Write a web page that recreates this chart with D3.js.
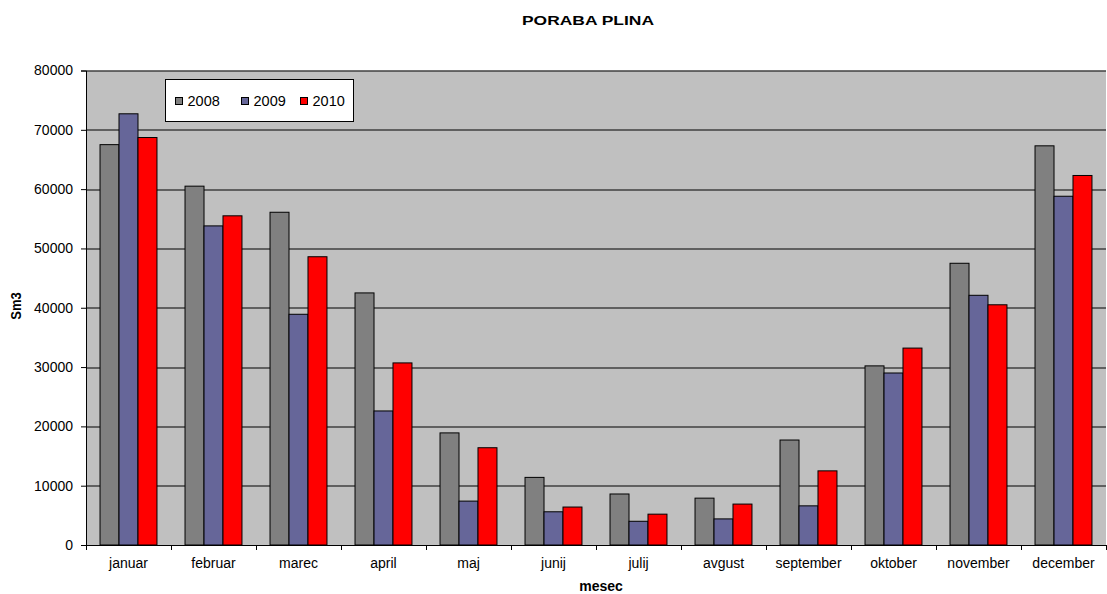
<!DOCTYPE html>
<html>
<head>
<meta charset="utf-8">
<script src="https://cdn.jsdelivr.net/npm/d3@7"></script>
<style>
  body { margin: 0; background: #fff; }
  text { font-family: "Liberation Sans", Arial, sans-serif; fill: #000; }
</style>
</head>
<body>
<script>
let months = ["januar", "februar", "marec", "april", "maj", "junij", "julij",
  "avgust", "september", "oktober", "november", "december"];
let years = ["2008", "2009", "2010"];
let v2008 = [67500, 60500, 56100, 42500, 18900, 11400, 8600, 7900, 17700, 30200, 47500, 67300];
let v2009 = [72700, 53800, 38900, 22600, 7400, 5600, 4000, 4400, 6600, 29000, 42100, 58800];
let v2010 = [68700, 55500, 48600, 30700, 16400, 6400, 5200, 6900, 12500, 33200, 40500, 62300];
let yTicks = [0, 10000, 20000, 30000, 40000, 50000, 60000, 70000, 80000];
let colors = ["#808080", "#666699", "#ff0000"];

let width = 1107, height = 594;
let margin = {top: 70.5, right: 1, bottom: 49, left: 86};
let innerW = width - margin.left - margin.right;
let innerH = height - margin.top - margin.bottom;

let svg = d3.select("body").append("svg")
    .attr("width", width)
    .attr("height", height);

let series = [v2008, v2009, v2010];

let x0 = d3.scaleBand()
    .domain(months)
    .range([0, innerW])
    .paddingInner(0.33)
    .paddingOuter(0.165);

let x1 = d3.scaleBand()
    .domain(years)
    .range([0, x0.bandwidth()]);

let y = d3.scaleLinear()
    .domain([0, 80000])
    .range([innerH, 0]);

let g = svg.append("g")
    .attr("transform", "translate(" + margin.left + "," + margin.top + ")");

g.append("rect")
    .attr("width", innerW)
    .attr("height", innerH)
    .attr("fill", "#c0c0c0");

// gridlines
g.append("g")
  .selectAll("line")
  .data(yTicks.slice(1))
  .enter().append("line")
    .attr("x1", 0)
    .attr("x2", innerW)
    .attr("y1", d => Math.round(y(d)) + 0.5)
    .attr("y2", d => Math.round(y(d)) + 0.5)
    .attr("stroke", "#000")
    .attr("stroke-width", 1);

// bars
let groups = g.append("g")
  .selectAll("g")
  .data(months)
  .enter().append("g")
    .attr("transform", d => "translate(" + x0(d) + ",0)");

groups.selectAll("rect")
  .data((m, i) => years.map((yr, j) => ({year: yr, value: series[j][i], c: colors[j]})))
  .enter().append("rect")
    .attr("x", d => x1(d.year))
    .attr("y", d => y(d.value))
    .attr("width", x1.bandwidth())
    .attr("height", d => innerH - y(d.value))
    .attr("fill", d => d.c)
    .attr("stroke", "#000")
    .attr("stroke-width", 1);

// y axis
let yAxis = g.append("g")
    .call(d3.axisLeft(y).tickValues(yTicks).tickFormat(d3.format("d")).tickSize(5).tickPadding(8));
yAxis.select(".domain").attr("stroke", "#000");
yAxis.selectAll("text").attr("font-size", "14px").attr("fill", "#000");

// x axis
let xTickPos = d3.range(months.length + 1).map(i => i * x0.step());
let xa = g.append("g").attr("transform", "translate(0," + innerH + ")");
xa.append("line")
    .attr("x1", 0).attr("x2", innerW)
    .attr("y1", 0.5).attr("y2", 0.5)
    .attr("stroke", "#000");
xa.selectAll(".tk")
  .data(xTickPos)
  .enter().append("line")
    .attr("x1", d => Math.round(d) + 0.5)
    .attr("x2", d => Math.round(d) + 0.5)
    .attr("y1", 0).attr("y2", 5)
    .attr("stroke", "#000");
xa.selectAll(".lbl")
  .data(months)
  .enter().append("text")
    .attr("x", d => x0(d) + x0.bandwidth() / 2)
    .attr("y", 23)
    .attr("text-anchor", "middle")
    .attr("font-size", "14px")
    .text(d => d);

// titles
svg.append("text")
    .attr("x", 522)
    .attr("y", 24.5)
    .attr("font-size", "13px")
    .attr("font-weight", "bold")
    .attr("textLength", 132)
    .attr("lengthAdjust", "spacingAndGlyphs")
    .text("PORABA PLINA");

svg.append("text")
    .attr("x", 601)
    .attr("y", 591)
    .attr("text-anchor", "middle")
    .attr("font-size", "14px")
    .attr("font-weight", "bold")
    .text("mesec");

svg.append("text")
    .attr("transform", "translate(21,306) scale(1.15,1) rotate(-90)")
    .attr("text-anchor", "middle")
    .attr("font-size", "13px")
    .attr("font-weight", "bold")
    .text("Sm3");

// legend
let legend = svg.append("g").attr("transform", "translate(165.5,79.5)");
legend.append("rect")
    .attr("width", 188)
    .attr("height", 42)
    .attr("fill", "#fff")
    .attr("stroke", "#000");
let legX = [10, 76, 135];
let item = legend.selectAll(".item")
  .data(years)
  .enter().append("g")
    .attr("transform", (d, i) => "translate(" + legX[i] + ",18)");
item.append("rect")
    .attr("width", 7)
    .attr("height", 7)
    .attr("fill", (d, i) => colors[i])
    .attr("stroke", "#000");
item.append("text")
    .attr("x", 12)
    .attr("y", 8.5)
    .attr("font-size", "14.5px")
    .text(d => d);
</script>
</body>
</html>
